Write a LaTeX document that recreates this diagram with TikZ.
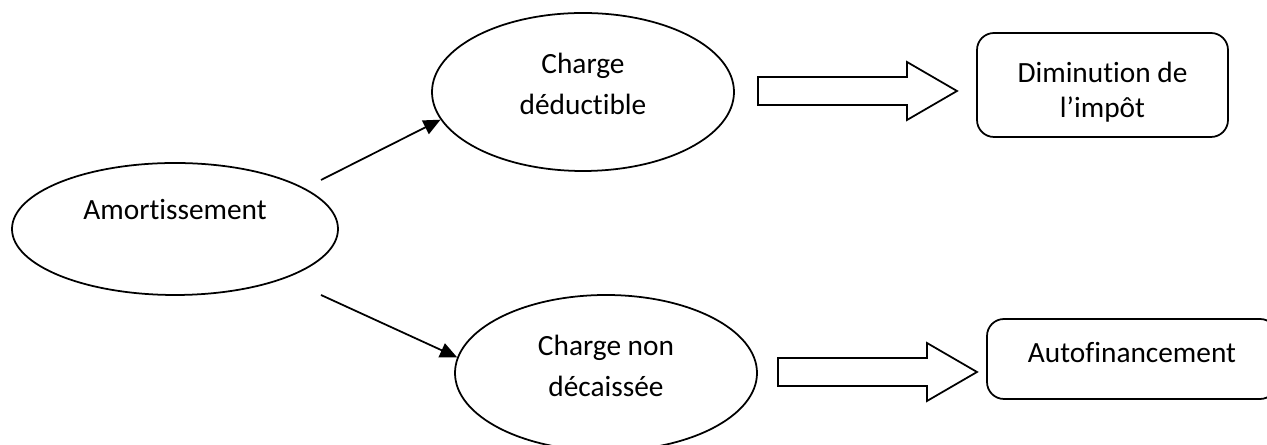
\documentclass[tikz,border=0pt]{standalone}
\usepackage{fontspec}
\setmainfont{Carlito}[Ligatures=NoCommon]
\usetikzlibrary{shapes.geometric, arrows.meta}
\tikzset{
  %% Styles %%
  bubble/.style = {draw, ellipse, line width=1pt, inner sep=0pt},
  card/.style = {draw, rectangle, rounded corners=0.34cm, line width=1pt, inner sep=0pt},
  words/.style = {align=center, inner sep=0pt, font=\fontsize{16.7}{23.8}\selectfont},
  tightwords/.style = {words, font=\fontsize{16.7}{19.9}\selectfont},
  link/.style = {line width=1pt, -{Triangle[length=0.34cm, width=0.3cm]}},
  pics/fatarrow/.style = {
      code = {
          % shaft and head, pointing right
          \draw[line width=1pt, fill=white] (0,-0.28) -- (2.98,-0.28) -- (2.98,-0.58)
              -- (3.98,0) -- (2.98,0.58) -- (2.98,0.28) -- (0,0.28) -- cycle;
      }
  }
}
\begin{document}
\begin{tikzpicture}
            \useasboundingbox (0,0) rectangle (25.34,8.9);
            % ellipses
            \node[bubble, minimum width=6.52cm, minimum height=2.64cm,
                  label={[words, yshift=0.38cm]center:Amortissement}] (amort) at (3.5,4.32) {};
            \node[bubble, minimum width=6.04cm, minimum height=3.16cm,
                  label={[words, yshift=0.16cm]center:Charge\\déductible}] (deduct) at (11.66,7.06) {};
            \node[bubble, minimum width=6.04cm, minimum height=3.12cm,
                  label={[words, yshift=0.14cm]center:Charge non\\décaissée}] (nondec) at (12.12,1.44) {};
            % boxes
            \node[card, minimum width=5.02cm, minimum height=2.08cm,
                  label={[tightwords, yshift=-0.15cm]center:Diminution de\\l’impôt}] (impot) at (22.05,7.2) {};
            \node[card, minimum width=5.8cm, minimum height=1.6cm,
                  label={[words, yshift=0.12cm]center:Autofinancement}] (autofin) at (22.64,1.72) {};
            % thin arrows
            \coordinate (a1) at (6.42,5.3);
            \coordinate (a2) at (6.42,3.0);
            \draw[link] (a1) -- (deduct.191);
            \draw[link] (a2) -- (nondec.174);
            % block arrows
            \pic at (15.16,7.08) {fatarrow};
            \pic at (15.56,1.46) {fatarrow};
        \end{tikzpicture}
\end{document}
